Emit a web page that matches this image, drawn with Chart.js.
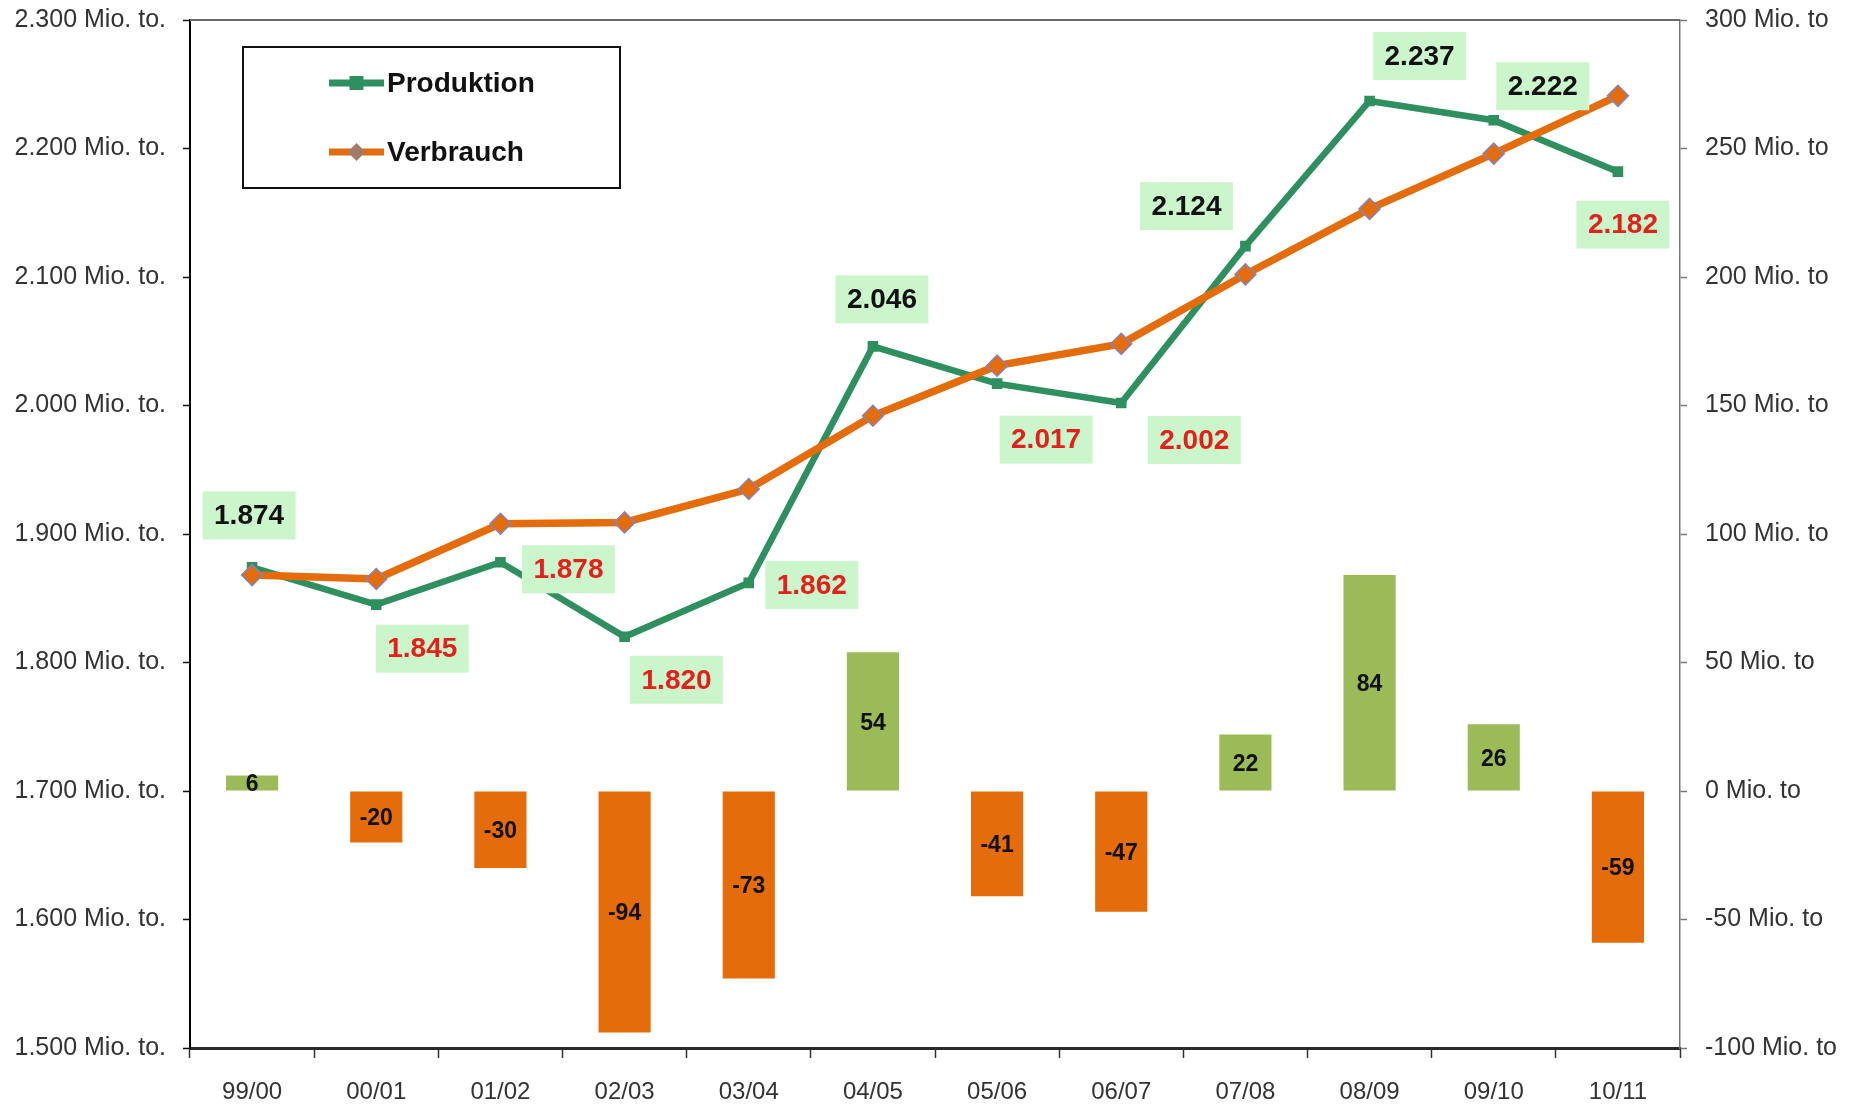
<!DOCTYPE html>
<html>
<head>
<meta charset="utf-8">
<script src="https://cdn.jsdelivr.net/npm/chart.js@4.4.1/dist/chart.umd.min.js"></script>
<style>
  html, body { margin: 0; padding: 0; background: #ffffff; }
  #c { display: block; }
</style>
</head>
<body>
<canvas id="c" width="1854" height="1110"></canvas>
<script>
// ---- data ----
const categories = ['99/00', '00/01', '01/02', '02/03', '03/04', '04/05', '05/06', '06/07', '07/08', '08/09', '09/10', '10/11'];
const produktion = [1874, 1845, 1878, 1820, 1862, 2046, 2017, 2002, 2124, 2237, 2222, 2182];
const verbrauch  = [1868, 1865, 1908, 1909, 1935, 1992, 2031, 2048, 2102, 2153, 2196, 2241];
const bilanz     = [6, -20, -30, -94, -73, 54, -41, -47, 22, 84, 26, -59];
const leftTicks  = [1500, 1600, 1700, 1800, 1900, 2000, 2100, 2200, 2300];
const rightTicks = [-100, -50, 0, 50, 100, 150, 200, 250, 300];
const seriesNames = ['Produktion', 'Verbrauch'];

// ---- presentation (label placement offsets in px, relative to the Produktion point) ----
const labelOffsets = [[-3,-52],[46,44],[68,7],[52,43],[63,2],[9,-47],[49,56],[73,37],[-59,-40],[50,-45],[49,-34],[5,53]];

const GREEN_LINE = '#2E8F5F';
const ORANGE = '#E46C0A';
const BAR_GREEN = '#9BBB59';
const RED_TXT = '#E3211C';
const FONT = '"Liberation Sans", Arial, sans-serif';

const fmtThousands = v => (v / 1000).toFixed(3);

const overlayPlugin = {
  id: 'overlay',
  afterDatasetsDraw(chart) {
    const ctx = chart.ctx;
    const ca = chart.chartArea;
    // top border
    ctx.save();
    ctx.strokeStyle = '#6a6a6a';
    ctx.lineWidth = 2;
    ctx.beginPath();
    ctx.moveTo(ca.left, ca.top);
    ctx.lineTo(ca.right, ca.top);
    ctx.stroke();

    // bar value labels
    const barMeta = chart.getDatasetMeta(0);
    ctx.font = 'bold 23px ' + FONT;
    ctx.fillStyle = '#111';
    ctx.textAlign = 'center';
    ctx.textBaseline = 'middle';
    barMeta.data.forEach((el, i) => {
      const yMid = (el.y + el.base) / 2;
      ctx.fillText(String(bilanz[i]), el.x, yMid + 2);
    });

    // production value labels
    const prodMeta = chart.getDatasetMeta(1);
    ctx.font = 'bold 28px ' + FONT;
    prodMeta.data.forEach((pt, i) => {
      const cx = pt.x + labelOffsets[i][0];
      const cy = pt.y + labelOffsets[i][1];
      const w = 93, h = 48;
      ctx.fillStyle = '#CBF6CC';
      ctx.fillRect(cx - w / 2, cy - h / 2, w, h);
      ctx.fillStyle = bilanz[i] >= 0 ? '#111' : RED_TXT;
      ctx.fillText(fmtThousands(produktion[i]), cx, cy + 1);
    });

    // legend box
    const lx = 243, ly = 47, lw = 377, lh = 141;
    ctx.fillStyle = '#fff';
    ctx.fillRect(lx, ly, lw, lh);
    ctx.strokeStyle = '#111';
    ctx.lineWidth = 2;
    ctx.strokeRect(lx, ly, lw, lh);
    const items = [
      { name: seriesNames[0], color: GREEN_LINE, y: 83, marker: 'rect' },
      { name: seriesNames[1], color: ORANGE, y: 152, marker: 'diamond' }
    ];
    items.forEach(it => {
      ctx.strokeStyle = it.color;
      ctx.lineWidth = 7;
      ctx.beginPath();
      ctx.moveTo(329, it.y);
      ctx.lineTo(384, it.y);
      ctx.stroke();
      if (it.marker === 'rect') {
        ctx.fillStyle = it.color;
        ctx.fillRect(356.5 - 7, it.y - 7, 14, 14);
      } else {
        ctx.fillStyle = '#A47A6A';
        ctx.beginPath();
        ctx.moveTo(356.5, it.y - 9);
        ctx.lineTo(365.5, it.y);
        ctx.lineTo(356.5, it.y + 9);
        ctx.lineTo(347.5, it.y);
        ctx.closePath();
        ctx.fill();
      }
      ctx.fillStyle = '#111';
      ctx.font = 'bold 28px ' + FONT;
      ctx.textAlign = 'left';
      ctx.textBaseline = 'middle';
      ctx.fillText(it.name, 387, it.y + 1);
    });
    ctx.restore();
  }
};

function noPad(scale) {
  scale.paddingTop = 0;
  scale.paddingBottom = 0;
  scale.paddingLeft = 0;
  scale.paddingRight = 0;
}

new Chart(document.getElementById('c'), {
  type: 'bar',
  data: {
    labels: categories,
    datasets: [
      {
        type: 'bar',
        label: 'Bilanz',
        data: bilanz,
        yAxisID: 'y1',
        backgroundColor: bilanz.map(v => v >= 0 ? BAR_GREEN : ORANGE),
        borderWidth: 0,
        categoryPercentage: 1.0,
        barPercentage: 0.42,
        order: 3
      },
      {
        type: 'line',
        label: seriesNames[0],
        data: produktion,
        yAxisID: 'y',
        borderColor: GREEN_LINE,
        borderWidth: 6.5,
        backgroundColor: GREEN_LINE,
        pointStyle: 'rect',
        pointRadius: 7.5,
        pointBorderWidth: 0,
        pointBackgroundColor: GREEN_LINE,
        tension: 0,
        fill: false,
        order: 2
      },
      {
        type: 'line',
        label: seriesNames[1],
        data: verbrauch,
        yAxisID: 'y',
        borderColor: ORANGE,
        borderWidth: 7.5,
        backgroundColor: ORANGE,
        pointStyle: 'rectRot',
        pointRadius: 10.5,
        pointBorderWidth: 1.5,
        pointBorderColor: '#8484BC',
        pointBackgroundColor: ORANGE,
        tension: 0,
        fill: false,
        order: 1
      }
    ]
  },
  options: {
    responsive: false,
    animation: false,
    devicePixelRatio: 1,
    layout: { padding: { top: 20, left: 0, right: 0, bottom: 0 } },
    plugins: {
      legend: { display: false },
      tooltip: { enabled: false }
    },
    scales: {
      x: {
        offset: true,
        grid: {
          display: true,
          offset: true,
          drawOnChartArea: false,
          drawTicks: true,
          tickLength: 10,
          tickColor: '#333',
          tickWidth: 1.5
        },
        border: { display: true, color: '#2a2a2a', width: 3 },
        ticks: {
          color: '#333',
          font: { family: FONT, size: 24 },
          padding: 20,
          maxRotation: 0
        },
        afterFit(scale) { scale.height = 62; noPad(scale); }
      },
      y: {
        position: 'left',
        min: leftTicks[0],
        max: leftTicks[leftTicks.length - 1],
        afterBuildTicks(scale) { scale.ticks = leftTicks.map(v => ({ value: v })); },
        grid: {
          display: true,
          drawOnChartArea: false,
          drawTicks: true,
          tickLength: 7,
          tickColor: '#111',
          tickWidth: 1.5
        },
        border: { display: true, color: '#000', width: 2 },
        ticks: {
          color: '#333',
          font: { family: FONT, size: 25 },
          padding: 17,
          callback: v => fmtThousands(v) + ' Mio. to.'
        },
        afterFit(scale) { scale.width = 190; noPad(scale); }
      },
      y1: {
        position: 'right',
        min: rightTicks[0],
        max: rightTicks[rightTicks.length - 1],
        afterBuildTicks(scale) { scale.ticks = rightTicks.map(v => ({ value: v })); },
        grid: {
          display: true,
          drawOnChartArea: false,
          drawTicks: true,
          tickLength: 7,
          tickColor: '#777',
          tickWidth: 1.5
        },
        border: { display: true, color: '#777', width: 1.5 },
        ticks: {
          color: '#333',
          font: { family: FONT, size: 25 },
          padding: 18,
          callback: v => v + ' Mio. to'
        },
        afterFit(scale) { scale.width = 174; noPad(scale); }
      }
    }
  },
  plugins: [overlayPlugin]
});
</script>
</body>
</html>
